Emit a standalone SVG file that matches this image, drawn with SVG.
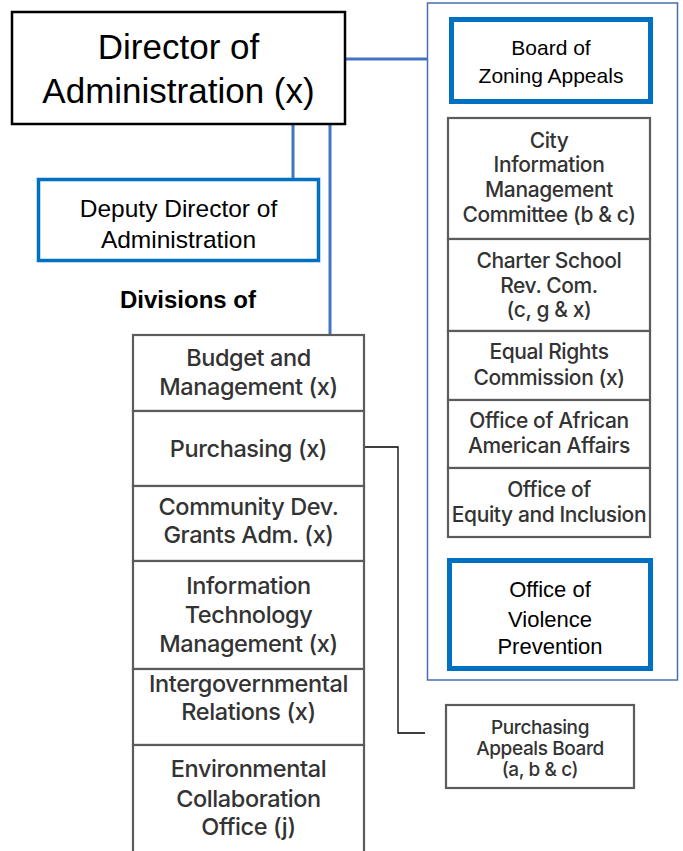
<svg xmlns="http://www.w3.org/2000/svg" width="683" height="851" viewBox="0 0 683 851">
<style>
  .bg{fill:#ffffff}
  .cal{font-family:"Liberation Sans",Arial,sans-serif;fill:#000;text-anchor:middle}
  .hel{font-family:Inter,"Liberation Sans",Arial,sans-serif;fill:#333333;text-anchor:middle;letter-spacing:-0.4px;font-weight:500}
  .blue{fill:#fff;stroke:#0070C0;stroke-width:5}
  .gray{fill:#fff;stroke:#5c5c5c;stroke-width:2.2}
  .conn{fill:none;stroke:#4472C4;stroke-width:3}
  .thin{fill:none;stroke:#000;stroke-width:1.3}
</style>
<rect class="bg" x="0" y="0" width="683" height="851"/>

<g id="connectors">
  <line class="conn" x1="345" y1="59" x2="427" y2="59"/>
  <line class="conn" x1="293" y1="124" x2="293" y2="179"/>
  <line class="conn" x1="330" y1="124" x2="330" y2="335"/>
  <path class="thin" d="M364,447 H398 V733 H425"/>
</g>

<g id="director">
  <rect x="12" y="12" width="333" height="112" fill="#fff" stroke="#000" stroke-width="2.5"/>
  <text class="cal" x="178.5" y="59" font-size="35">Director of</text>
  <text class="cal" x="178.5" y="103" font-size="35">Administration (x)</text>
</g>

<g id="deputy">
  <rect x="38.5" y="179.5" width="280" height="81" fill="#fff" stroke="#0070C0" stroke-width="3.5"/>
  <text class="cal" x="178.5" y="217" font-size="24.5">Deputy Director of</text>
  <text class="cal" x="178.5" y="248" font-size="24.5">Administration</text>
</g>

<g id="divisions-label">
  <text class="cal" x="188" y="308" font-size="24" font-weight="bold">Divisions of</text>
</g>

<g id="panel">
  <rect x="427.5" y="3" width="250" height="677" fill="none" stroke="#4a6cb3" stroke-width="1.5"/>
</g>

<g id="zoning">
  <rect class="blue" x="451.5" y="19.5" width="199" height="82"/>
  <text class="cal" x="551" y="55" font-size="21">Board of</text>
  <text class="cal" x="551" y="83" font-size="21">Zoning Appeals</text>
</g>

<g id="city-info">
  <rect class="gray" x="448" y="118" width="202" height="121"/>
  <text class="hel" x="549" y="148" font-size="21">City</text>
  <text class="hel" x="549" y="172" font-size="21">Information</text>
  <text class="hel" x="549" y="197" font-size="21">Management</text>
  <text class="hel" x="549" y="222" font-size="21">Committee (b &amp; c)</text>
</g>

<g id="charter">
  <rect class="gray" x="448" y="239" width="202" height="92"/>
  <text class="hel" x="549" y="268" font-size="21">Charter School</text>
  <text class="hel" x="549" y="293" font-size="21">Rev. Com.</text>
  <text class="hel" x="549" y="317" font-size="21">(c, g &amp; x)</text>
</g>

<g id="equal-rights">
  <rect class="gray" x="448" y="331" width="202" height="69"/>
  <text class="hel" x="549" y="359" font-size="21">Equal Rights</text>
  <text class="hel" x="549" y="385" font-size="21">Commission (x)</text>
</g>

<g id="african-american">
  <rect class="gray" x="448" y="400" width="202" height="68"/>
  <text class="hel" x="549" y="428" font-size="21">Office of African</text>
  <text class="hel" x="549" y="453" font-size="21">American Affairs</text>
</g>

<g id="equity">
  <rect class="gray" x="448" y="468" width="202" height="69"/>
  <text class="hel" x="549" y="497" font-size="21">Office of</text>
  <text class="hel" x="549" y="522" font-size="21">Equity and Inclusion</text>
</g>

<g id="violence">
  <rect class="blue" x="449.5" y="560.5" width="201" height="108"/>
  <text class="cal" x="550" y="597" font-size="22">Office of</text>
  <text class="cal" x="550" y="627" font-size="22">Violence</text>
  <text class="cal" x="550" y="654" font-size="22">Prevention</text>
</g>

<g id="budget">
  <rect class="gray" x="133" y="335" width="231" height="76"/>
  <text class="hel" x="248.5" y="366" font-size="23.5">Budget and</text>
  <text class="hel" x="248.5" y="395" font-size="23.5">Management (x)</text>
</g>

<g id="purchasing">
  <rect class="gray" x="133" y="411" width="231" height="75"/>
  <text class="hel" x="248.5" y="457" font-size="23.5">Purchasing (x)</text>
</g>

<g id="community-dev">
  <rect class="gray" x="133" y="486" width="231" height="75"/>
  <text class="hel" x="248.5" y="515" font-size="23.5">Community Dev.</text>
  <text class="hel" x="248.5" y="543" font-size="23.5">Grants Adm. (x)</text>
</g>

<g id="it">
  <rect class="gray" x="133" y="561" width="231" height="108"/>
  <text class="hel" x="248.5" y="594" font-size="23.5">Information</text>
  <text class="hel" x="248.5" y="623" font-size="23.5">Technology</text>
  <text class="hel" x="248.5" y="652" font-size="23.5">Management (x)</text>
</g>

<g id="intergov">
  <rect class="gray" x="133" y="669" width="231" height="76"/>
  <text class="hel" x="248.5" y="692" font-size="23.5">Intergovernmental</text>
  <text class="hel" x="248.5" y="720" font-size="23.5">Relations (x)</text>
</g>

<g id="environmental">
  <rect class="gray" x="133" y="745" width="231" height="120"/>
  <text class="hel" x="248.5" y="777" font-size="23.5">Environmental</text>
  <text class="hel" x="248.5" y="807" font-size="23.5">Collaboration</text>
  <text class="hel" x="248.5" y="835" font-size="23.5">Office (j)</text>
</g>

<g id="purchasing-appeals">
  <rect class="gray" x="446" y="705" width="188" height="83"/>
  <text class="hel" x="540" y="734" font-size="19">Purchasing</text>
  <text class="hel" x="540" y="755" font-size="19">Appeals Board</text>
  <text class="hel" x="540" y="776" font-size="19">(a, b &amp; c)</text>
</g>
</svg>
